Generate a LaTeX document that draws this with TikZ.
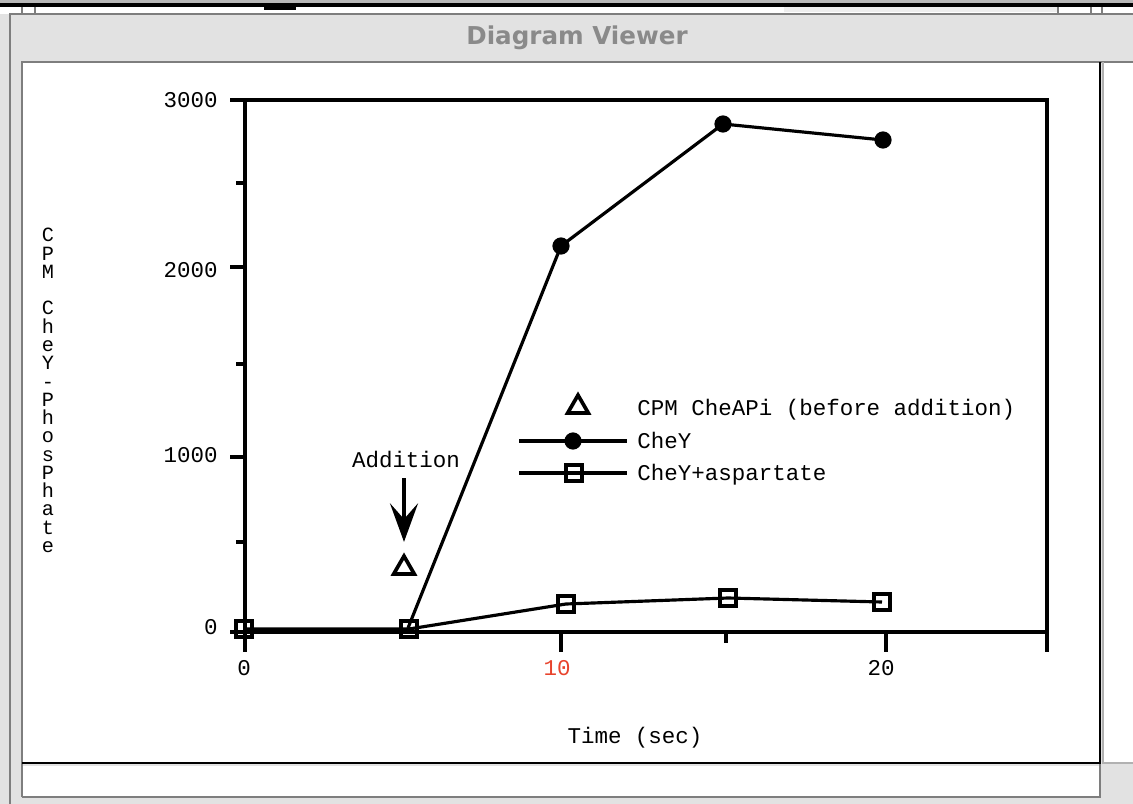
\documentclass[tikz,border=0pt]{standalone}
\usepackage{fontspec}
\setmonofont{Liberation Mono}
\newfontfamily\titlefont{DejaVu Sans}
\usetikzlibrary{arrows.meta, positioning, shapes.geometric}
\definecolor{wingrey}{HTML}{E2E2E2}
\definecolor{edgegrey}{HTML}{7E7E7E}
\definecolor{titlegrey}{HTML}{8A8A8A}
\definecolor{palegrey}{HTML}{EEEEEE}
\definecolor{shadegrey}{HTML}{B8B8B8}
\definecolor{tickred}{HTML}{E8432C}
\tikzset{
  every picture/.style={font=\ttfamily\fontsize{12.8}{15}\selectfont},
  frame/.style={line width=2.3pt},
  curve/.style={line width=1.8pt, line join=round},
  dot/.style={circle, fill=black, inner sep=0pt, minimum size=9.8pt},
  sqmark/.style={rectangle, draw, line width=2pt, inner sep=0pt, minimum size=9pt},
  trimark/.style={regular polygon, regular polygon sides=3, draw, line width=2.1pt, line join=miter, inner sep=0pt, minimum size=13.5pt},
  lab/.style={inner sep=0pt},
  addarrow/.style={line width=1.9pt, -{Stealth[length=22pt, width=16pt, inset=9pt]}},
}

\begin{document}
\begin{tikzpicture}[x=0.02cm, y=-0.02cm]
  \useasboundingbox (0,0) rectangle (1133,804);
  % screen behind the window
  \fill[wingrey] (0,0) rectangle (1133,804);
  \fill[shadegrey] (0,0) rectangle (1133,3);
  \fill[black] (0,3) rectangle (1133,7);
  \fill[white] (0,7) rectangle (1133,14);
  \fill[palegrey] (784,7) rectangle (1058,12);
  \fill[black] (264,7) rectangle (296,10);
  \foreach \x in {22,35,1058,1091,1102}
    \draw[edgegrey, line width=0.6pt] (\x,7) -- (\x,14);
  % window and title bar
  \draw[edgegrey, line width=1pt] (10,804) -- (10,14) -- (1133,14);
  \node[font=\titlefont\bfseries\fontsize{14}{16}\selectfont, text=titlegrey] (title) at (577,38) {Diagram Viewer};
  % panel
  \fill[white] (22,62) rectangle (1100,763);
  \fill[white] (1103,62) rectangle (1133,763);
  \fill[white] (22,766) rectangle (1100,797);
  \draw[edgegrey, line width=1pt] (22,797) -- (22,62) -- (1133,62);
  \draw[edgegrey, line width=1pt] (22,797) -- (1100,797) -- (1100,763);
  \draw[edgegrey!60, line width=0.6pt] (1103,62) -- (1103,763) -- (1133,763);
  \draw[black, line width=1pt] (22,763) -- (1100,763) -- (1100,62);

  % frame and ticks
  \draw[frame] (230,100) -- (1047,100) -- (1047,652);
  \draw[frame] (245,100) -- (245,652);
  \draw[frame] (230,632) -- (1047,632);
  \foreach \y in {267,457} \draw[frame] (230,\y) -- (245,\y);
  \foreach \y in {183,364,542} \draw[frame] (236,\y) -- (245,\y);
  \foreach \x in {561,886} \draw[frame] (\x,632) -- (\x,652);
  \draw[frame] (726,632) -- (726,643);

  % tick labels
  \foreach \v/\y in {0/634, 1000/462, 2000/277, 3000/108}
    \node[lab, anchor=base east] (yl\v) at (218,\y) {\v};
  \node[lab, anchor=base] (xl0) at (244,675) {0};
  \node[lab, anchor=base, text=tickred] (xl10) at (557,675) {10};
  \node[lab, anchor=base] (xl20) at (881,675) {20};
  \node[lab, anchor=base] (xtitle) at (635,743) {Time (sec)};
  \node[lab, anchor=north, align=center, font=\ttfamily\fontsize{11.5}{10.4}\selectfont] (ytitle) at (48,228)
    {C\\P\\M\\~\\C\\h\\e\\Y\\-\\P\\h\\o\\s\\P\\h\\a\\t\\e};

  % data
  \foreach \n/\x/\y in {1/408/628, 2/561/246, 3/723/124, 4/883/140}
    \coordinate (y\n) at (\x,\y);
  \foreach \n/\x/\y in {0/244/629, 1/409/629, 2/566/604, 3/728/598, 4/882/602}
    \coordinate (a\n) at (\x,\y);
  \draw[curve] (y1) -- (y2) -- (y3) -- (y4);
  \draw[curve] (a0) -- (a1) -- (a2) -- (a3) -- (a4);
  \foreach \n in {2,3,4} \node[dot] (yd\n) at (y\n) {};
  \foreach \n in {0,...,4} \node[sqmark] (ad\n) at (a\n) {};
  \node[trimark] (tri0) at (404,568) {};

  % addition mark
  \node[lab, anchor=base] (addlab) at (406,467) {Addition};
  \draw[addarrow, shorten <=6pt, shorten >=6pt] (addlab.south -| tri0.north) -- (tri0.north);

  % legend
  \node[trimark] (legtri) at (578,407) {};
  \coordinate (legYw) at (519,441);
  \coordinate (legYe) at (627,441);
  \coordinate (legAw) at (519,473);
  \coordinate (legAe) at (627,473);
  \draw[curve] (legYw) -- (legYe);
  \draw[curve] (legAw) -- (legAe);
  \node[dot] (legdot) at (573,441) {};
  \node[sqmark] (legsq) at (574,473) {};
  \node[lab, anchor=base west] (legA) at (637,415) {CPM CheAPi (before addition)};
  \node[lab, anchor=base west] (legB) at (637,448) {CheY};
  \node[lab, anchor=base west] (legC) at (637,480) {CheY+aspartate};
\end{tikzpicture}
\end{document}
